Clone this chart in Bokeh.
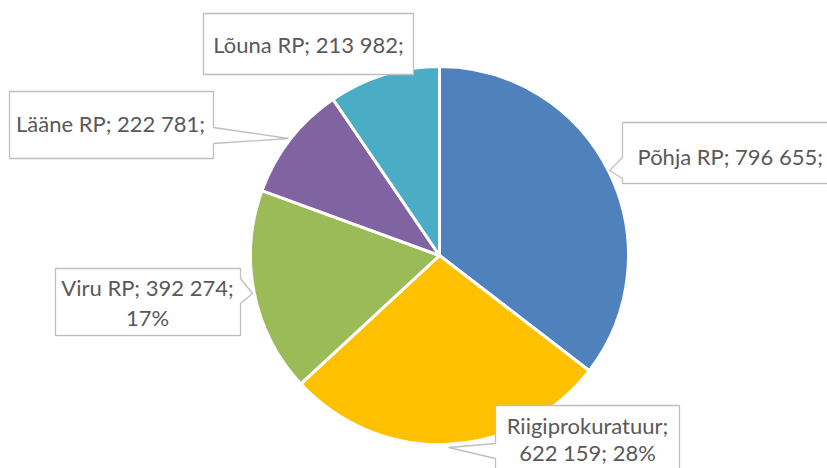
import math
from bokeh.plotting import figure
from bokeh.models import Range1d
from bokeh.core.properties import value
from bokeh.embed import file_html
from bokeh.resources import INLINE

# ---- data ----
names = ["Põhja RP", "Riigiprokuratuur", "Viru RP", "Lääne RP", "Lõuna RP"]
amounts = [796655, 622159, 392274, 222781, 213982]
colors = ["#4F81BD", "#FFC000", "#9BBB59", "#8064A2", "#4BACC6"]

# ---- layout (pixel coords, y downward) ----
W, H = 827, 468
CX, CY, R = 439, 255, 189
FONT = "Lato"
FSIZE = 22
TEXT_COLOR = "#595959"
BOX_LINE = "#BFBFBF"

# callout layout per slice: box, pointer side, pointer points, text template, text anchor
callouts = {
    "Põhja RP": dict(box=(622, 122, 860, 183), side="left", ptr=(157, (609, 170), 178),
                     tpl="{n}; {v};", tx=637, ty=156, align="left", lh=0),
    "Riigiprokuratuur": dict(box=(495, 405, 679, 500), side="left", ptr=(443, (448, 447), 458),
                             tpl="{n};|{v}; {p}%", tx=587, ty=425, align="center", lh=27),
    "Viru RP": dict(box=(55, 268, 240, 335), side="right", ptr=(278, (252, 293), 303),
                    tpl="{n}; {v};|{p}%", tx=147, ty=287, align="center", lh=30),
    "Lääne RP": dict(box=(9, 91, 213, 158), side="right", ptr=(127, (288, 138), 143),
                     tpl="{n}; {v};", tx=110, ty=123, align="center", lh=0),
    "Lõuna RP": dict(box=(203, 13, 413, 74), side=None, ptr=None,
                     tpl="{n}; {v};", tx=308, ty=44, align="center", lh=0),
}


def fy(y):
    return H - y


def fmt(v):
    return f"{v:,}".replace(",", " ")


total = sum(amounts)
starts, ends = [], []
acc = 0
for a in amounts:
    starts.append(math.pi / 2 - 2 * math.pi * acc / total)
    acc += a
    ends.append(math.pi / 2 - 2 * math.pi * acc / total)

p = figure(width=W, height=H, x_range=Range1d(0, W), y_range=Range1d(0, H),
           output_backend="svg", toolbar_location=None,
           x_axis_location=None, y_axis_location=None, min_border=0)
p.grid.visible = False
p.outline_line_color = None
p.background_fill_color = "white"
p.border_fill_color = "white"

p.wedge(x=[CX] * len(amounts), y=[fy(CY)] * len(amounts), radius=R,
        start_angle=starts, end_angle=ends, direction="clock",
        fill_color=colors, line_color="white", line_width=3)

xs, ys = [], []
tx, ty, tt, ta = [], [], [], []
for n, a in zip(names, amounts):
    c = callouts[n]
    x0, y0, x1, y1 = c["box"]
    if c["side"] == "right":
        pt, tip, pb = c["ptr"]
        pts = [(x0, y0), (x1, y0), (x1, pt), tip, (x1, pb), (x1, y1), (x0, y1)]
    elif c["side"] == "left":
        pt, tip, pb = c["ptr"]
        pts = [(x0, y0), (x1, y0), (x1, y1), (x0, y1), (x0, pb), tip, (x0, pt)]
    else:
        pts = [(x0, y0), (x1, y0), (x1, y1), (x0, y1)]
    xs.append([q[0] for q in pts])
    ys.append([fy(q[1]) for q in pts])
    pct = round(a / total * 100)
    lines = c["tpl"].format(n=n, v=fmt(a), p=pct).split("|")
    for i, line in enumerate(lines):
        tx.append(c["tx"])
        ty.append(fy(c["ty"] + i * c["lh"]))
        tt.append(line)
        ta.append(c["align"])

p.patches(xs, ys, fill_color="white", line_color=BOX_LINE, line_width=1.3)

for align in ("left", "center"):
    idx = [i for i in range(len(tt)) if ta[i] == align]
    p.text(x=[tx[i] for i in idx], y=[ty[i] for i in idx], text=[tt[i] for i in idx],
           text_font=value(FONT), text_font_size=f"{FSIZE}px", text_color=TEXT_COLOR,
           text_align=align, text_baseline="middle")

open("out.html", "w").write(file_html(p, INLINE))
